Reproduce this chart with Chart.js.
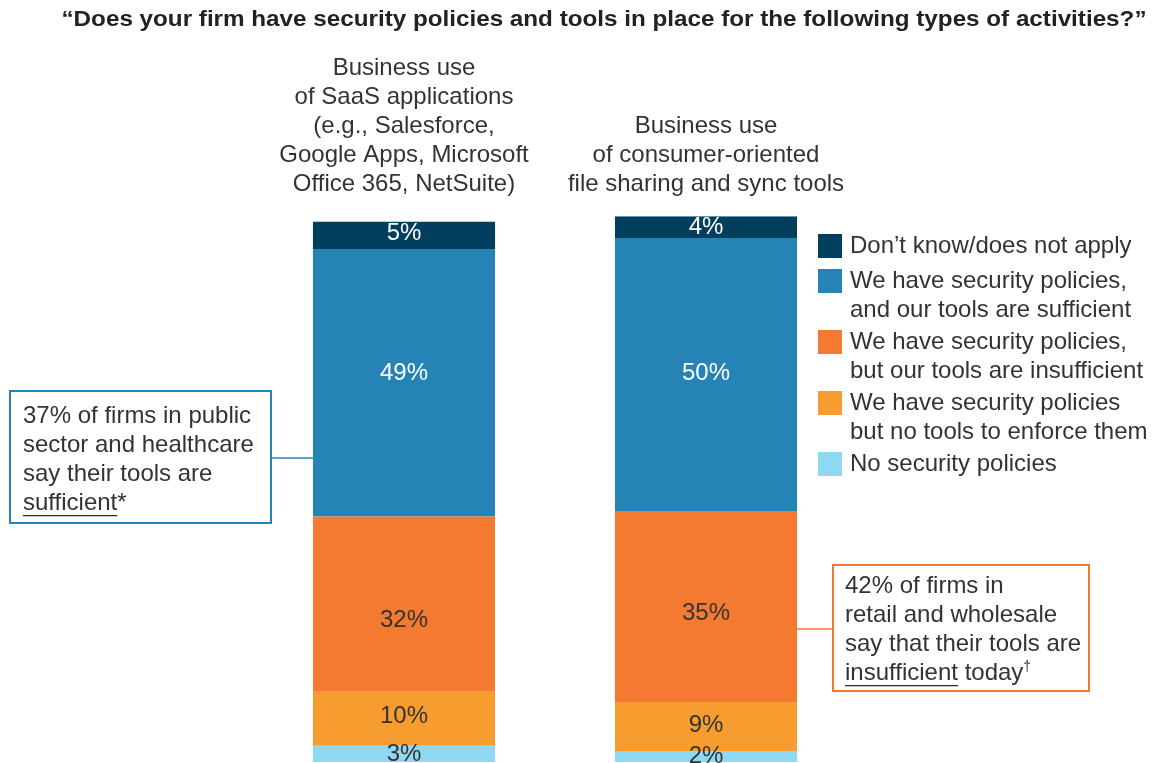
<!DOCTYPE html>
<html>
<head>
<meta charset="utf-8">
<script src="https://cdn.jsdelivr.net/npm/chart.js@4/dist/chart.umd.min.js"></script>
<style>
  body { margin: 0; background: #fff; }
  canvas { display: block; }
</style>
</head>
<body>
<canvas id="chart" width="1162" height="763"></canvas>
<script>
// Data
const categories = [
  ["Business use", "of SaaS applications", "(e.g., Salesforce,", "Google Apps, Microsoft", "Office 365, NetSuite)"],
  ["Business use", "of consumer-oriented", "file sharing and sync tools"]
];
const noPolicies = [3, 2];
const policiesNoTools = [10, 9];
const toolsInsufficient = [32, 35];
const toolsSufficient = [49, 50];
const dontKnow = [5, 4];

const seriesNames = [
  ["No security policies"],
  ["We have security policies", "but no tools to enforce them"],
  ["We have security policies,", "but our tools are insufficient"],
  ["We have security policies,", "and our tools are sufficient"],
  ["Don\u2019t know/does not apply"]
];
const titleText = "\u201cDoes your firm have security policies and tools in place for the following types of activities?\u201d";

const FONT = '"Liberation Sans", Arial, sans-serif';
const TEXT = "#333333";
const colors = ["#8ed8f1", "#f79c2f", "#f47a31", "#2683b6", "#023f5f"];
const labelColors = [TEXT, TEXT, TEXT, "#ffffff", "#ffffff"];
// the source labels are not all dead-centre in their segment
const labelNudge = [[1, 0], [-2, -1], [17, 7], [-9, -1], [-2, 0]];

// Title, segment labels, legend and callout boxes
const decorations = {
  id: "decorations",
  afterDatasetsDraw(chart) {
    const ctx = chart.ctx;
    ctx.save();

    // title (the source type is wider than Liberation Sans, so stretch it a bit)
    ctx.fillStyle = "#222";
    ctx.font = "bold 22px " + FONT;
    ctx.textAlign = "center";
    ctx.textBaseline = "middle";
    const tw = ctx.measureText(titleText).width;
    ctx.save();
    ctx.translate(604, 20);
    ctx.scale(1085 / tw, 1);
    ctx.fillText(titleText, 0, 0);
    ctx.restore();

    // value labels in each segment
    ctx.font = "24px " + FONT;
    chart.data.datasets.forEach((ds, i) => {
      chart.getDatasetMeta(i).data.forEach((bar, j) => {
        ctx.fillStyle = labelColors[i];
        ctx.fillText(ds.data[j] + "%", bar.x, (bar.y + bar.base) / 2 + labelNudge[i][j]);
      });
    });

    // legend, top of stack first
    ctx.textAlign = "left";
    let y = 234;
    for (let i = chart.data.datasets.length - 1; i >= 0; i--) {
      const lines = seriesNames[i];
      ctx.fillStyle = colors[i];
      ctx.fillRect(818, y, 24, 24);
      ctx.fillStyle = TEXT;
      lines.forEach((line, k) => ctx.fillText(line, 850, y + 12 + k * 29));
      y += 35 + (lines.length - 1) * 26;
    }

    // callouts
    const leftBar = chart.getDatasetMeta(3).data[0];
    const rightBar = chart.getDatasetMeta(2).data[1];
    drawCallout(ctx, {
      x: 10, y: 391, w: 261, h: 132, color: "#2683b6",
      lineY: 458, lineTo: leftBar.x - leftBar.width / 2, textX: 23, textY: 416,
      lines: [["37% of firms in public"], ["sector and healthcare"], ["say their tools are"], [{ t: "sufficient", u: true }, "*"]]
    });
    drawCallout(ctx, {
      x: 833, y: 565, w: 256, h: 126, color: "#f47a31",
      lineY: 629, lineTo: rightBar.x + rightBar.width / 2, textX: 845, textY: 586,
      lines: [["42% of firms in"], ["retail and wholesale"], ["say that their tools are"], [{ t: "insufficient", u: true }, " today", { t: "\u2020", sup: true }]]
    });
    ctx.restore();
  }
};

function drawCallout(ctx, c) {
  ctx.strokeStyle = c.color;
  ctx.lineWidth = 2;
  ctx.strokeRect(c.x, c.y, c.w, c.h);
  ctx.lineWidth = 1.5;
  ctx.beginPath();
  const fromX = c.lineTo < c.x ? c.x : c.x + c.w;
  ctx.moveTo(fromX, c.lineY);
  ctx.lineTo(c.lineTo, c.lineY);
  ctx.stroke();

  ctx.fillStyle = TEXT;
  ctx.textAlign = "left";
  ctx.textBaseline = "middle";
  c.lines.forEach((parts, k) => {
    let x = c.textX;
    const ly = c.textY + k * 29;
    parts.forEach(p => {
      const run = typeof p === "string" ? { t: p } : p;
      ctx.font = (run.sup ? "14px " : "24px ") + FONT;
      ctx.fillText(run.t, x, run.sup ? ly - 6 : ly);
      const w = ctx.measureText(run.t).width;
      if (run.u) {
        ctx.fillRect(x, ly + 12, w, 1.3);
      }
      x += w;
    });
  });
}

new Chart(document.getElementById("chart"), {
  type: "bar",
  data: {
    labels: categories,
    datasets: [noPolicies, policiesNoTools, toolsInsufficient, toolsSufficient, dontKnow].map((d, i) => ({
      label: seriesNames[i].join(" "),
      data: d,
      backgroundColor: colors[i],
      borderWidth: 0,
      barPercentage: 0.603,
      categoryPercentage: 1
    }))
  },
  options: {
    responsive: false,
    animation: false,
    layout: { padding: { left: 253, right: 305, top: 45, bottom: 1 } },
    plugins: { legend: { display: false }, tooltip: { enabled: false } },
    scales: {
      x: {
        position: "top",
        stacked: true,
        grid: { display: false },
        border: { display: false },
        ticks: { color: TEXT, font: { family: FONT, size: 24, lineHeight: 1.21 }, padding: 9, maxRotation: 0 }
      },
      y: { stacked: true, display: false, min: 0, max: 100 }
    }
  },
  plugins: [decorations]
});
</script>
</body>
</html>
